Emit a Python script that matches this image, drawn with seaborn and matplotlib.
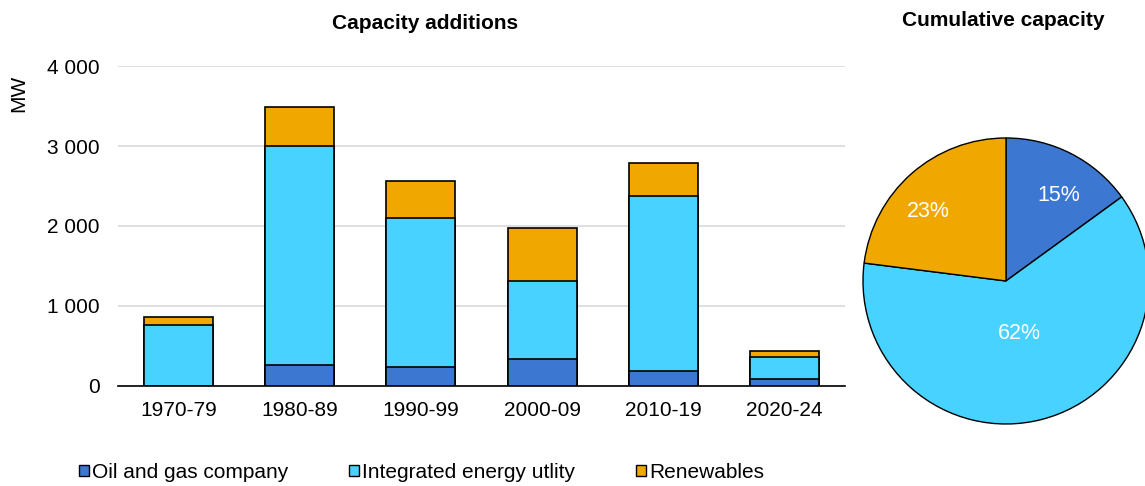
import numpy as np
import pandas as pd
import matplotlib
matplotlib.use("Agg")
import matplotlib.pyplot as plt
from matplotlib.patches import Patch
from matplotlib.ticker import FuncFormatter
import seaborn as sns

# ---- data ----
decades = ["1970-79", "1980-89", "1990-99", "2000-09", "2010-19", "2020-24"]
oil_gas = [0, 260, 230, 340, 190, 90]
integrated = [760, 2740, 1870, 975, 2185, 270]
renewables = [100, 490, 460, 660, 410, 80]
series_names = ["Oil and gas company", "Integrated energy utlity", "Renewables"]
pie_shares = [15, 62, 23]
yticks = [0, 1000, 2000, 3000, 4000]

colors = ["#3C78D2", "#48D2FF", "#F0A800"]

sns.set_theme(style="white")
plt.rcParams["font.family"] = ["Liberation Sans", "DejaVu Sans"]
plt.rcParams["text.color"] = "black"

FS = 15

fig = plt.figure(figsize=(11.45, 4.86), dpi=100)
ax = fig.add_axes([0.103, 0.206, 0.635, 0.658])

df = pd.DataFrame({"decade": decades, "oil": oil_gas, "integ": integrated, "ren": renewables})
df["lvl1"] = df["oil"]
df["lvl2"] = df["oil"] + df["integ"]
df["lvl3"] = df["lvl2"] + df["ren"]

for col, c in zip(["lvl3", "lvl2", "lvl1"], [colors[2], colors[1], colors[0]]):
    sns.barplot(data=df, x="decade", y=col, color=c, width=0.57, edgecolor="black",
                linewidth=1.2, saturation=1, ax=ax, zorder=3)

ax.set_xlim(-0.5, 5.5)
ax.set_ylim(0, 4000)
ax.set_yticks(yticks)
ax.yaxis.set_major_formatter(FuncFormatter(lambda v, p: f"{int(v):,}".replace(",", " ")))
ax.grid(axis="y", color="#d9d9d9", linewidth=1.2, zorder=0)
ax.set_axisbelow(True)
for s in ["left", "right", "top"]:
    ax.spines[s].set_visible(False)
ax.spines["bottom"].set_color("black")
ax.spines["bottom"].set_linewidth(1.2)
ax.tick_params(axis="both", labelsize=FS, colors="black", length=0)
ax.tick_params(axis="x", pad=11)
ax.tick_params(axis="y", pad=13)
ax.set_xlabel("")
ax.set_ylabel("MW", fontsize=FS, color="black")
ax.yaxis.set_label_coords(-0.123, 0.915)
ax.set_title("Capacity additions", fontsize=FS, fontweight="bold", pad=27, x=0.422, color="black")

# pie
pax = fig.add_axes([0.7537, 0.1276, 0.2498, 0.5885])
wedges, texts, autotexts = pax.pie(pie_shares, colors=colors, startangle=90, counterclock=False,
                                   autopct="%d%%", pctdistance=0.82,
                                   wedgeprops=dict(edgecolor="black", linewidth=1.0),
                                   textprops=dict(color="white", fontsize=15.5))
pax.set_xlim(-1.0, 1.0)
pax.set_ylim(-1.0, 1.0)
pax.set_aspect("equal")
for w in wedges:
    w.set_clip_on(False)
# label placement tweaks to mimic the original (spreadsheet-style label positions)
for i, t in enumerate(autotexts):
    x, y = t.get_position()
    if i == 1:
        t.set_position((x * 0.465, y * 0.465))
    else:
        t.set_position((x, y - 0.13))
fig.text(0.876, 0.958, "Cumulative capacity", ha="center", va="center", fontsize=FS, fontweight="bold")

handles = [Patch(facecolor=c, edgecolor="black", linewidth=1) for c in colors]
fig.legend(handles, series_names, loc="center", bbox_to_anchor=(0.368, 0.028), ncol=3,
           frameon=False, fontsize=FS, handlelength=0.5, handleheight=0.5,
           handletextpad=0.15, columnspacing=2.9)

fig.savefig("out.png", dpi=100)
